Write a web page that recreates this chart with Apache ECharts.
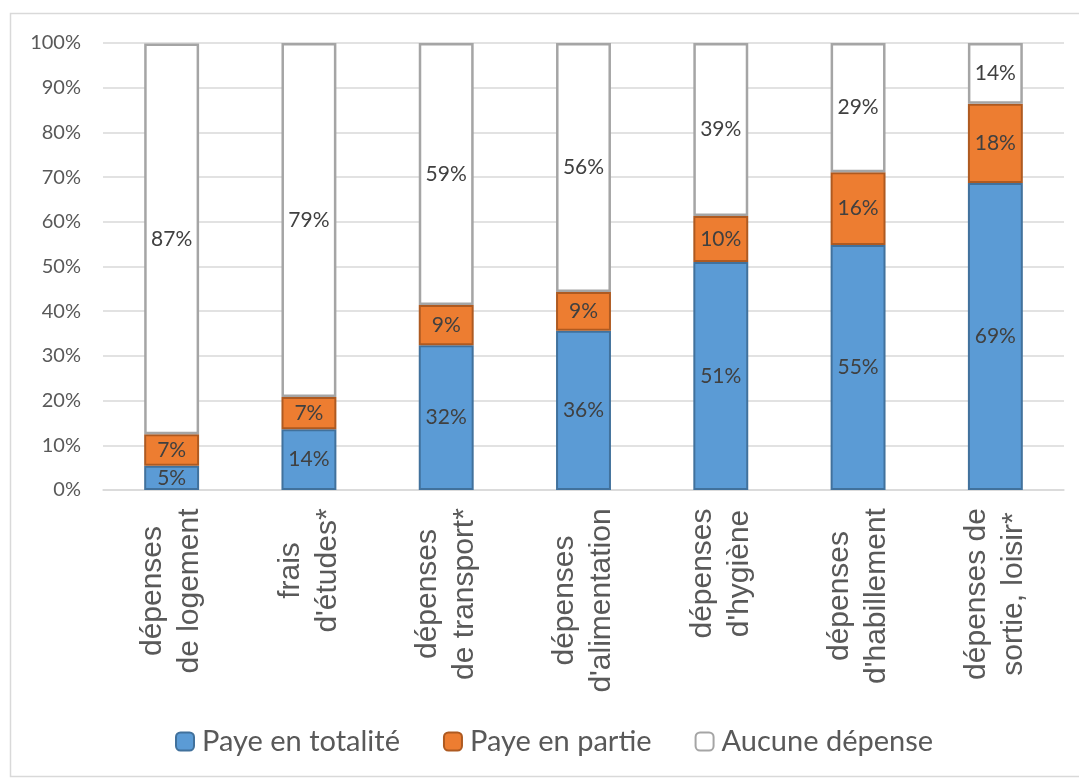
<!DOCTYPE html>
<html>
<head>
<meta charset="utf-8">
<title>Dépenses</title>
<script src="https://cdn.jsdelivr.net/npm/echarts@6/dist/echarts.min.js"></script>
<style>
  html, body { margin: 0; padding: 0; background: #fff; }
  #chart { width: 1079px; height: 778px; }
</style>
</head>
<body>
<div id="chart"></div>
<script>
// catégories (axe x)
const categories = [
  "dépenses\nde logement",
  "frais\nd'études*",
  "dépenses\nde transport*",
  "dépenses\nd'alimentation",
  "dépenses\nd'hygiène",
  "dépenses\nd'habillement",
  "dépenses de\nsortie, loisir*"
];
// valeurs (en %)
const payeTotalite = [5.4, 13.6, 32.4, 35.6, 51.0, 54.8, 68.7];
const payePartie = [7.1, 7.2, 9.0, 8.7, 10.3, 16.3, 17.7];
const aucuneDepense = [87.4, 79.2, 58.6, 55.7, 38.7, 28.9, 13.6];
const seriesNames = ["Paye en totalité", "Paye en partie", "Aucune dépense"];

const catFont = "30px 'Liberation Sans'";

// largeur de chaque bloc de libellé, pour centrer les lignes entre elles
const ctx = document.createElement("canvas").getContext("2d");
ctx.font = catFont;
const rich = {};
categories.forEach(function (c, i) {
  const w = Math.max.apply(null, c.split("\n").map(function (l) {
    return ctx.measureText(l).width;
  }));
  rich["c" + i] = {
    width: Math.ceil(w),
    align: "center",
    fontFamily: "Liberation Sans",
    fontSize: 30,
    lineHeight: 37,
    color: "#595959"
  };
});

const myChart = echarts.init(document.getElementById("chart"));

const labelStyle = {
  show: true,
  position: "inside",
  color: "#404040",
  fontFamily: "Lato",
  fontSize: 21,
  formatter: function (p) {
    return Math.round(p.value) + "%";
  }
};

const option = {
  animation: false,
  graphic: [
    {
      type: "rect",
      shape: { x: 10.5, y: 13.5, width: 1080, height: 763 },
      style: { fill: "none", stroke: "#d9d9d9", lineWidth: 1.5 },
      silent: true
    }
  ],
  legend: {
    left: 170,
    top: 722,
    itemWidth: 18,
    itemHeight: 18,
    itemGap: 43,
    textStyle: {
      fontFamily: "Lato",
      fontSize: 29,
      color: "#595959",
      padding: [0, 0, 0, 3]
    },
    data: [
      { name: seriesNames[0], itemStyle: { color: "#5b9bd5", borderColor: "#41719c", borderWidth: 2 } },
      { name: seriesNames[1], itemStyle: { color: "#ed7d31", borderColor: "#ae5a21", borderWidth: 2 } },
      { name: seriesNames[2], itemStyle: { color: "#ffffff", borderColor: "#a5a5a5", borderWidth: 2 } }
    ]
  },
  grid: {
    left: 103,
    right: 15,
    top: 43,
    bottom: 288
  },
  xAxis: {
    type: "category",
    data: categories,
    axisLine: { lineStyle: { color: "#d9d9d9", width: 1.5 } },
    axisTick: { show: false },
    axisLabel: {
      interval: 0,
      rotate: 90,
      margin: 18,
      formatter: function (v, i) {
        return v.split("\n").map(function (l) {
          return "{c" + i + "|" + l + "}";
        }).join("\n");
      },
      rich: rich
    }
  },
  yAxis: {
    type: "value",
    min: 0,
    max: 100,
    interval: 10,
    axisLine: { show: false },
    axisTick: { show: false },
    splitLine: { lineStyle: { color: "#d9d9d9", width: 1.5 } },
    axisLabel: {
      formatter: "{value}%",
      margin: 22,
      color: "#595959",
      fontFamily: "Lato",
      fontSize: 20
    }
  },
  series: [
    {
      name: seriesNames[0],
      type: "bar",
      stack: "total",
      barWidth: "40%",
      itemStyle: { color: "#5b9bd5", borderColor: "#41719c", borderWidth: 2 },
      label: labelStyle,
      data: payeTotalite
    },
    {
      name: seriesNames[1],
      type: "bar",
      stack: "total",
      itemStyle: { color: "#ed7d31", borderColor: "#ae5a21", borderWidth: 2 },
      label: labelStyle,
      data: payePartie
    },
    {
      name: seriesNames[2],
      type: "bar",
      stack: "total",
      itemStyle: { color: "#ffffff", borderColor: "#a5a5a5", borderWidth: 2.5 },
      label: labelStyle,
      data: aucuneDepense
    }
  ]
};

myChart.setOption(option);
</script>
</body>
</html>
